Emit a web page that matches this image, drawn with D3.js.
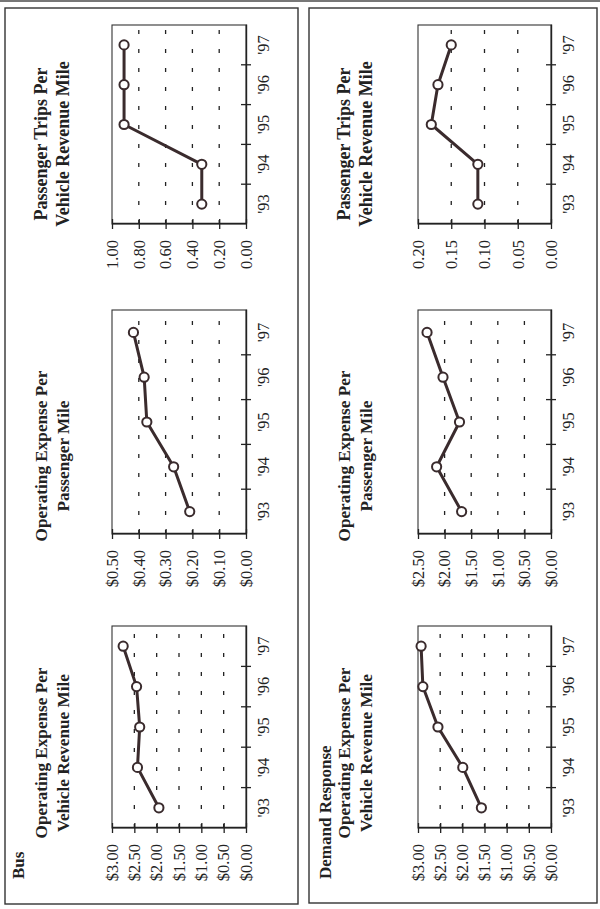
<!DOCTYPE html>
<html>
<head>
<meta charset="utf-8">
<script src="https://cdn.jsdelivr.net/npm/d3@7"></script>
<style>
  html, body { margin: 0; padding: 0; background: #ffffff; }
  svg { display: block; }
  text { font-family: "Liberation Serif", "Times New Roman", serif; }
</style>
</head>
<body>
<script>
// ---------- DATA ----------
const years = ["'93", "'94", "'95", "'96", "'97"];

const busOpExpPerVRM   = [1.95, 2.43, 2.38, 2.45, 2.75];
const busOpExpPerPM    = [0.21, 0.27, 0.37, 0.38, 0.42];
const busTripsPerVRM   = [0.33, 0.33, 0.91, 0.91, 0.91];

const drOpExpPerVRM    = [1.57, 1.99, 2.55, 2.89, 2.93];
const drOpExpPerPM     = [1.68, 2.15, 1.72, 2.03, 2.33];
const drTripsPerVRM    = [0.11, 0.11, 0.18, 0.17, 0.15];

const ticksVRM      = [0, 0.5, 1.0, 1.5, 2.0, 2.5, 3.0];
const ticksBusPM    = [0, 0.1, 0.2, 0.3, 0.4, 0.5];
const ticksDrPM     = [0, 0.5, 1.0, 1.5, 2.0, 2.5];
const ticksBusTrips = [0, 0.2, 0.4, 0.6, 0.8, 1.0];
const ticksDrTrips  = [0, 0.05, 0.10, 0.15, 0.20];

const panelLabels = ["Bus", "Demand Response"];
const titleVRM   = ["Operating Expense Per", "Vehicle Revenue Mile"];
const titlePM    = ["Operating Expense Per", "Passenger Mile"];
const titleTrips = ["Passenger Trips Per", "Vehicle Revenue Mile"];

// ---------- LAYOUT (landscape coordinates, then rotated) ----------
const W = 909;
const ink = "#3a2b2d";
const svg = d3.select("body").append("svg").attr("width", 600).attr("height", 909);
svg.append("rect").attr("width", 600).attr("height", 909).attr("fill", "#fff");
svg.append("line").attr("x1", 0).attr("x2", 600).attr("y1", 1).attr("y2", 1)
   .attr("stroke", "#777").attr("stroke-width", 2);

const g = svg.append("g").attr("transform", `translate(0,${W}) rotate(-90)`);

// panels
const panels = [
  { x: 5, y: 5, w: 896, h: 293, label: panelLabels[0], labelY: 24 },
  { x: 6, y: 309, w: 895, h: 288, label: panelLabels[1], labelY: 331 }
];
panels.forEach(p => {
  g.append("rect").attr("x", p.x).attr("y", p.y).attr("width", p.w).attr("height", p.h)
    .attr("fill", "none").attr("stroke", "#333").attr("stroke-width", 1.4);
  g.append("text").attr("x", 30).attr("y", p.labelY).text(p.label)
    .attr("font-weight", "bold").attr("font-size", 17).attr("fill", "#222");
});

const money = d3.format("$.2f");
const dec2 = d3.format(".2f");

const cols = [
  { x0: 81, x1: 283, tc: 156, fs: 17.2 },
  { x0: 375, x1: 599, tc: 453, fs: 17.2 },
  { x0: 685, x1: 884, tc: 765, fs: 18 }
];
const rows = [
  { yt: 112, yb: 246, t1: 47, t2: 69 },
  { yt: 418, yb: 551, t1: 350, t2: 372 }
];

const charts = [
  { col: 0, row: 0, data: busOpExpPerVRM, ticks: ticksVRM, fmt: money, title: titleVRM },
  { col: 1, row: 0, data: busOpExpPerPM, ticks: ticksBusPM, fmt: money, title: titlePM },
  { col: 2, row: 0, data: busTripsPerVRM, ticks: ticksBusTrips, fmt: dec2, title: titleTrips },
  { col: 0, row: 1, data: drOpExpPerVRM, ticks: ticksVRM, fmt: money, title: titleVRM },
  { col: 1, row: 1, data: drOpExpPerPM, ticks: ticksDrPM, fmt: money, title: titlePM },
  { col: 2, row: 1, data: drTripsPerVRM, ticks: ticksDrTrips, fmt: dec2, title: titleTrips }
];

const tickFont = 16.5;

charts.forEach(cfg => {
  const C = cols[cfg.col], R = rows[cfg.row];
  const max = d3.max(cfg.ticks);
  const x = d3.scaleBand().domain(years).range([C.x0, C.x1]);
  const y = d3.scaleLinear().domain([0, max]).range([R.yb, R.yt]);
  const c = g.append("g");

  // title
  const tt = c.append("text").attr("text-anchor", "middle").attr("font-weight", "bold")
    .attr("font-size", C.fs).attr("fill", "#222");
  tt.append("tspan").attr("x", C.tc).attr("y", R.t1).text(cfg.title[0]);
  tt.append("tspan").attr("x", C.tc).attr("y", R.t2).text(cfg.title[1]);

  // gridlines
  c.selectAll(".grid").data(cfg.ticks.filter(t => t > 0 && t < max)).join("line")
    .attr("x1", C.x0).attr("x2", C.x1)
    .attr("y1", d => y(d)).attr("y2", d => y(d))
    .attr("stroke", "#222").attr("stroke-width", 1.3)
    .attr("stroke-dasharray", "4,15");

  // plot frame
  c.append("rect").attr("x", C.x0).attr("y", y(max))
    .attr("width", C.x1 - C.x0).attr("height", y(0) - y(max))
    .attr("fill", "none").attr("stroke", "#333").attr("stroke-width", 1.1);

  // value axis
  const ya = c.append("g").attr("transform", `translate(${C.x0},0)`)
    .call(d3.axisLeft(y).tickValues(cfg.ticks).tickFormat(cfg.fmt)
      .tickSize(5).tickSizeOuter(0).tickPadding(11));
  ya.select(".domain").attr("stroke", "#222").attr("stroke-width", 1.4);
  ya.selectAll(".tick line").attr("x1", -5).attr("x2", 5).attr("stroke", "#222").attr("stroke-width", 1.3);
  ya.selectAll(".tick text").attr("font-size", tickFont).attr("fill", "#222")
    .attr("font-family", "Liberation Serif, Times New Roman, serif");

  // category axis
  const xa = c.append("g").attr("transform", `translate(0,${y(0)})`)
    .call(d3.axisBottom(x).tickSize(0).tickSizeOuter(0).tickPadding(11));
  xa.select(".domain").attr("stroke", "#222").attr("stroke-width", 1.4);
  xa.selectAll(".tick text").attr("font-size", tickFont).attr("fill", "#222")
    .attr("font-family", "Liberation Serif, Times New Roman, serif");
  xa.selectAll(".bound").data(years.slice(1)).join("line")
    .attr("x1", d => x(d)).attr("x2", d => x(d))
    .attr("y1", -5).attr("y2", 5).attr("stroke", "#222").attr("stroke-width", 1.3);

  // series line
  const cx = (d, i) => x(years[i]) + x.bandwidth() / 2;
  const line = d3.line().x(cx).y(d => y(d));
  c.append("path").datum(cfg.data).attr("d", line)
    .attr("fill", "none").attr("stroke", ink).attr("stroke-width", 3)
    .attr("stroke-linejoin", "round");
  c.selectAll(".pt").data(cfg.data).join("circle")
    .attr("cx", cx).attr("cy", d => y(d)).attr("r", 4.6)
    .attr("fill", "#fff").attr("stroke", ink).attr("stroke-width", 2);
});
</script>
</body>
</html>
